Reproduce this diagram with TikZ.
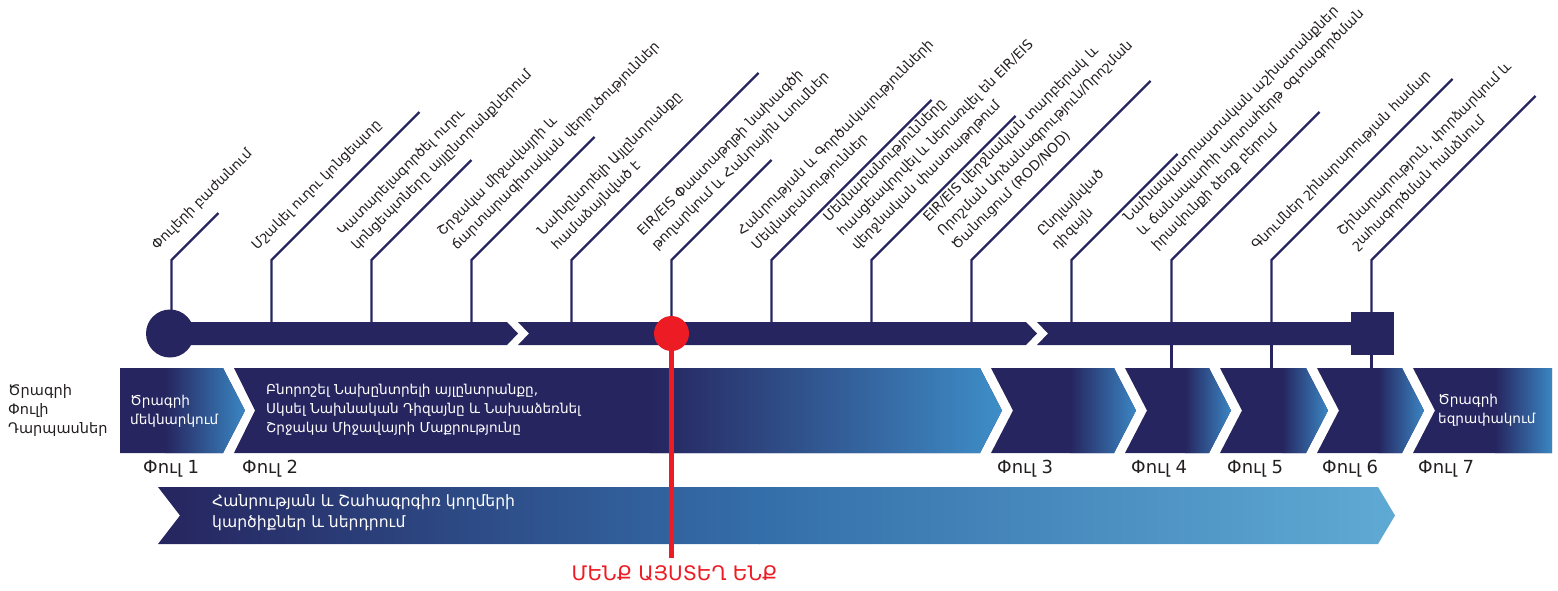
\documentclass[tikz,border=0pt]{standalone}
\usepackage{fontspec}
\setmainfont{DejaVu Sans}
\usetikzlibrary{calc}
\definecolor{navy}{RGB}{38,37,95}
\definecolor{cblue}{RGB}{58,134,195}
\definecolor{pblue}{RGB}{62,142,200}
\definecolor{bmid}{RGB}{52,110,170}
\definecolor{lblue}{RGB}{95,170,212}
\definecolor{mred}{RGB}{237,28,36}
\definecolor{tgray}{RGB}{35,31,32}
\newcommand\lb[1]{\begin{tabular}[b]{@{}l@{}}#1\end{tabular}}
\tikzset{
  stem/.style={draw=navy, line width=2.3pt},
  lab/.style={rotate=45, anchor=base west, inner sep=0pt, text=tgray, font=\fontsize{13.6}{20}\selectfont},
  ptxt/.style={anchor=west, inner sep=0pt, text=white, align=left, font=\fontsize{13.6}{19}\selectfont},
  plab/.style={anchor=base west, inner sep=0pt, text=tgray, font=\fontsize{18}{20}\selectfont},
  barseg/.style={fill=navy},
}
\begin{document}
\begin{tikzpicture}[x=1pt,y=-1pt]
\useasboundingbox (0,0) rectangle (1558,590);

% stems and their diagonal leaders
\foreach \k/\t in {1/47,2/148,3/100,4/123,5/187,6/100,7/160,8/144,9/179,10/106,11/148,12/181,13/164}{
  \coordinate (b\k) at ({71.5+100*\k},333);
  \coordinate (e\k) at ({71.5+100*\k},260);
  \coordinate (s\k) at ({71.5+100*\k-14.6},{260-9.4});
  \coordinate (t\k) at ({71.5+100*\k+\t},{260-\t});
  \draw[stem] (b\k) -- (e\k) -- (t\k);
}
\foreach \k in {11,12,13}{
  \coordinate (c\k) at ({71.5+100*\k},340);
  \coordinate (d\k) at ({71.5+100*\k},369);
  \draw[stem] (c\k) -- (d\k);
}

% timeline bar
\fill[barseg] (170,322) -- (507,322) -- (518,333.5) -- (507,345) -- (170,345) -- cycle;
\fill[barseg] (518,322) -- (1026,322) -- (1037,333.5) -- (1026,345) -- (518,345) -- (529,333.5) -- cycle;
\fill[barseg] (1037,322) -- (1372,322) -- (1372,345) -- (1037,345) -- (1048,333.5) -- cycle;
\node[circle, fill=navy, minimum size=48pt, inner sep=0pt] (start) at (170,333.5) {};
\node[rectangle, fill=navy, minimum size=43pt, inner sep=0pt] (endsq) at (1372.5,333.5) {};

% labels
\node[lab] (l1) at (s1) {\lb{Փուլերի բաժանում}};
\node[lab] (l2) at (s2) {\lb{Մշակել ուղու կոնցեպտը}};
\node[lab] (l3) at (s3) {\lb{Կատարելագործել ուղու\\կոնցեպտները այլընտրանքներում}};
\node[lab] (l4) at (s4) {\lb{Շրջակա միջավայրի և\\ճարտարագիտական վերլուծություններ}};
\node[lab] (l5) at (s5) {\lb{Նախընտրելի Այլընտրանքը\\համաձայնված է}};
\node[lab] (l6) at (s6) {\lb{EIR/EIS Փաստաթղթի նախագծի\\թողարկում և Հանրային Լսումներ}};
\node[lab] (l7) at (s7) {\lb{Հանրության և Գործակալությունների\\Մեկնաբանություններ}};
\node[lab] (l8) at (s8) {\lb{Մեկնաբանությունները\\հասցեավորվել և ներառվել են EIR/EIS\\վերջնական փաստաթղթում}};
\node[lab] (l9) at (s9) {\lb{EIR/EIS վերջնական տարբերակ և\\Որոշման Արձանագրություն/Որոշման\\Ծանուցում (ROD/NOD)}};
\node[lab] (l10) at (s10) {\lb{Ընդլայնված\\դիզայն}};
\node[lab] (l11) at (s11) {\lb{Նախապատրաստական աշխատանքներ\\և ճանապարհի արտահերթ օգտագործման\\իրավունքի ձեռք բերում}};
\node[lab] (l12) at (s12) {\lb{Գնումներ շինարարության համար}};
\node[lab] (l13) at (s13) {\lb{Շինարարություն, փորձարկում և\\շահագործման հանձնում}};

% phase chevrons
\def\pA{(120,368) -- (223,368) -- (245,410.5) -- (223,453) -- (120,453) -- cycle}
\def\pB{(234,368) -- (980,368) -- (1002,410.5) -- (980,453) -- (234,453) -- (255,410.5) -- cycle}
\def\pC{(991,368) -- (1114,368) -- (1136,410.5) -- (1114,453) -- (991,453) -- (1013,410.5) -- cycle}
\def\pD{(1125,368) -- (1209,368) -- (1231,410.5) -- (1209,453) -- (1125,453) -- (1147,410.5) -- cycle}
\def\pE{(1220,368) -- (1306,368) -- (1328,410.5) -- (1306,453) -- (1220,453) -- (1242,410.5) -- cycle}
\def\pF{(1317,368) -- (1402,368) -- (1424,410.5) -- (1402,453) -- (1317,453) -- (1339,410.5) -- cycle}
\def\pG{(1413,368) -- (1552,368) -- (1552,453) -- (1413,453) -- (1435,410.5) -- cycle}
\foreach \p/\a/\b/\c in {\pA/165/245/cblue, \pB/650/1002/pblue, \pC/1070/1136/cblue, \pD/1185/1231/cblue, \pE/1282/1328/cblue, \pF/1378/1424/cblue, \pG/1495/1552/cblue}{
  \fill[navy] \p;
  \begin{scope}
    \clip \p;
    \shade[left color=navy, right color=\c] (\a,360) rectangle (\b,460);
  \end{scope}
}

% stakeholder band
\def\pH{(158,487) -- (1378,487) -- (1395,515.5) -- (1378,544) -- (158,544) -- (180,515.5) -- cycle}
\begin{scope}
  \clip \pH;
  \shade[left color=navy, right color=bmid] (158,480) rectangle (760,550);
  \shade[left color=bmid, right color=lblue] (759,480) rectangle (1396,550);
\end{scope}

% texts in chevrons
\node[anchor=west, inner sep=0pt, text=tgray, align=left, font=\fontsize{14.5}{19}\selectfont] (gates) at (8,410.5) {Ծրագրի\\Փուլի\\Դարպասներ};
\node[ptxt] (t1) at (130,411) {Ծրագրի\\մեկնարկում};
\node[ptxt] (t2) at (266,409.5) {Բնորոշել Նախընտրելի այլընտրանքը,\\Սկսել Նախնական Դիզայնը և Նախաձեռնել\\Շրջակա Միջավայրի Մաքրությունը};
\node[ptxt] (t7) at (1438,410) {Ծրագրի\\եզրափակում};
\node[ptxt, font=\fontsize{15.6}{21}\selectfont] (tb) at (212,513) {Հանրության և Շահագրգիռ կողմերի\\կարծիքներ և ներդրում};

% phase numbers
\node[plab] (f1) at (143,473) {Փուլ 1};
\node[plab] (f2) at (242,473) {Փուլ 2};
\node[plab] (f3) at (997,473) {Փուլ 3};
\node[plab] (f4) at (1131,473) {Փուլ 4};
\node[plab] (f5) at (1227,473) {Փուլ 5};
\node[plab] (f6) at (1322,473) {Փուլ 6};
\node[plab] (f7) at (1418,473) {Փուլ 7};

% you are here marker
\coordinate (herebot) at (671.5,558);
\draw[mred, line width=5pt] (671.5,333.5) -- (herebot);
\node[circle, fill=mred, minimum size=35pt, inner sep=0pt] (here) at (671.5,333.5) {};
\node[anchor=north, inner sep=0pt, text=mred, font=\fontsize{20}{22}\selectfont] (heretxt) at ($(herebot)+(3,7)$) {ՄԵՆՔ ԱՅՍՏԵՂ ԵՆՔ};
\end{tikzpicture}
\end{document}
